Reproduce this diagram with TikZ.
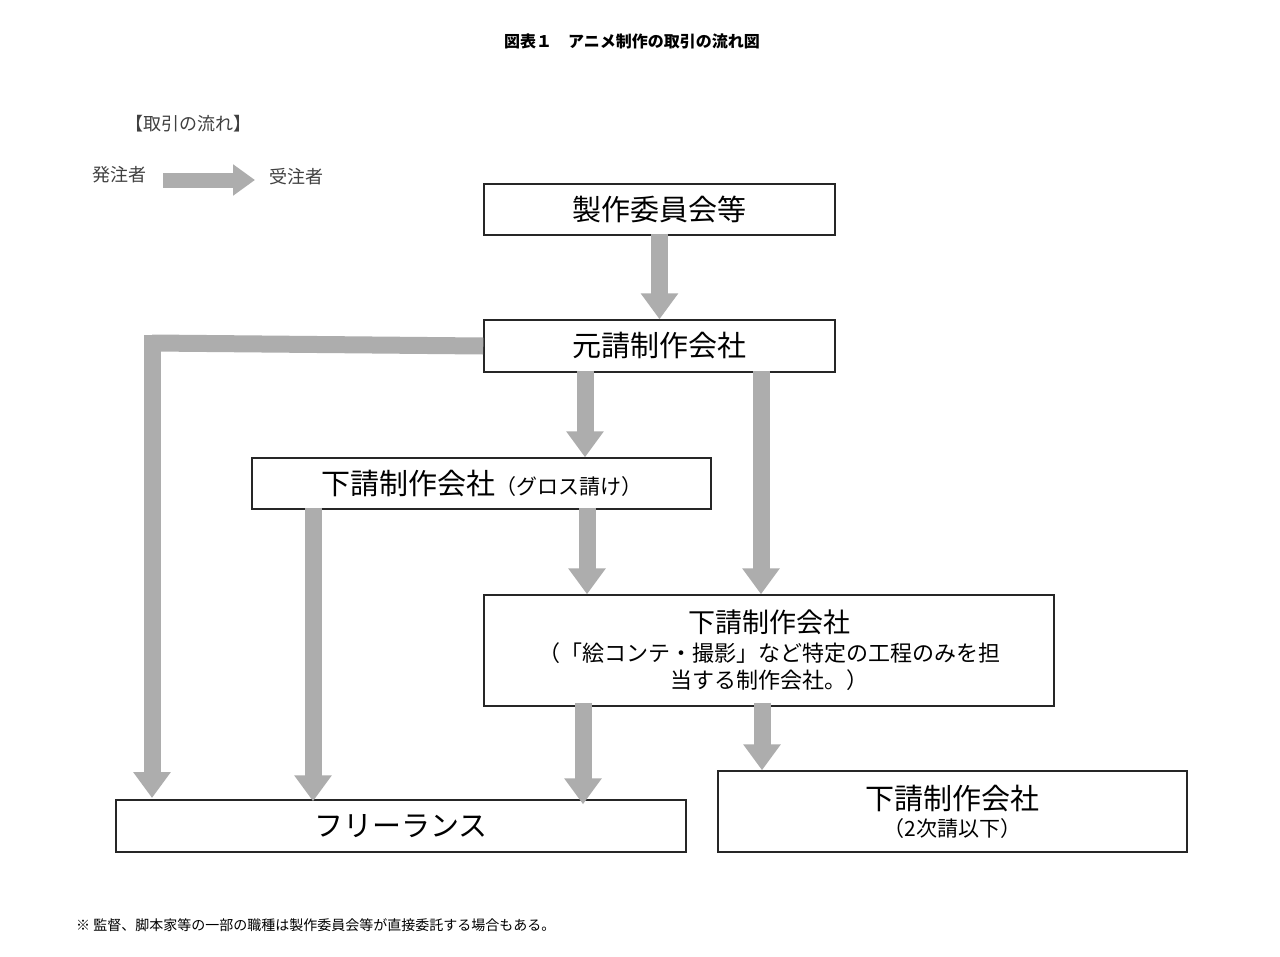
\documentclass[tikz,border=0pt]{standalone}
\usepackage{fontspec}
\setmainfont{Noto Sans CJK JP}
\usetikzlibrary{arrows.meta}
\begin{document}
\begin{tikzpicture}[x=1pt,y=-1pt,
  box/.style={draw=black!85,line width=1.5pt,inner sep=0pt,font=\fontsize{29}{33}\selectfont,align=center},
  flow/.style={draw=black!32,line width=17pt,-{Triangle[width=36pt,length=26pt]}},
  lbl/.style={inner sep=0pt,text=black!75}]
\useasboundingbox[fill=white] (0,0) rectangle (1280,956);
\node[lbl,text=black,font=\bfseries\fontsize{16}{18}\selectfont] (title) at (632,41) {図表１　アニメ制作の取引の流れ図};
\node[lbl,font=\fontsize{18}{20}\selectfont] (leg) at (188,124) {【取引の流れ】};
\node[lbl,font=\fontsize{18}{20}\selectfont] (ha) at (119,175) {発注者};
\node[lbl,font=\fontsize{18}{20}\selectfont] (ju) at (296,177) {受注者};
\draw[flow,line width=15pt,-{Triangle[width=30pt,length=22pt]}] (163,180) -- (255,180);
\node[box,minimum width=351pt,minimum height=51pt] (sei) at (659.5,209.5) {製作委員会等};
\node[box,minimum width=351pt,minimum height=52pt] (moto) at (659.5,346) {元請制作会社};
\node[box,minimum width=459pt,minimum height=51pt] (gross) at (481.5,483.5) {下請制作会社\fontsize{21}{24}\selectfont（グロス請け）};
\node[box,minimum width=570pt,minimum height=111pt,font=\fontsize{27}{31}\selectfont] (sub) at (769,650.5) {下請制作会社\\[-2pt]{\fontsize{22}{30}\selectfont （「絵コンテ・撮影」など特定の工程のみを担}\\[-4pt]{\fontsize{22}{30}\selectfont 当する制作会社。）}};
\node[box,minimum width=570pt,minimum height=52pt] (free) at (401,826) {フリーランス};
\node[box,minimum width=469pt,minimum height=81pt,font=\fontsize{29}{33}\selectfont] (sub2) at (952.5,811.5) {下請制作会社\\[-6pt]{\fontsize{21}{26}\selectfont （2次請以下）}};
\draw[flow] ([yshift=2pt]sei.south) -- (sei.south |- moto.north);
\draw[flow,-] (moto.west) -- (152,343);
\draw[flow] (152,335) -- (152,798);
\draw[flow] ([xshift=-74.5pt,yshift=2pt]moto.south) -- ([xshift=-74.5pt]moto.south |- gross.north);
\draw[flow] ([xshift=101.5pt,yshift=2pt]moto.south) -- ([xshift=101.5pt]moto.south |- sub.north);
\draw[flow] ([xshift=-168.5pt,yshift=2pt]gross.south) -- ([xshift=-168.5pt,yshift=-2pt]gross.south |- free.north);
\draw[flow] ([xshift=105.5pt,yshift=2pt]gross.south) -- ([xshift=105.5pt]gross.south |- sub.north);
\draw[flow] ([xshift=-186pt,yshift=4pt]sub.south) -- ([xshift=-186pt,yshift=-5pt]sub.south |- free.north);
\draw[flow] ([xshift=-7pt,yshift=4pt]sub.south) -- ([xshift=-7pt]sub.south |- sub2.north);
\node[lbl,text=black,anchor=west,font=\fontsize{14}{16}\selectfont] (note) at (76,925) {※ 監督、脚本家等の一部の職種は製作委員会等が直接委託する場合もある。};
\end{tikzpicture}
\end{document}
